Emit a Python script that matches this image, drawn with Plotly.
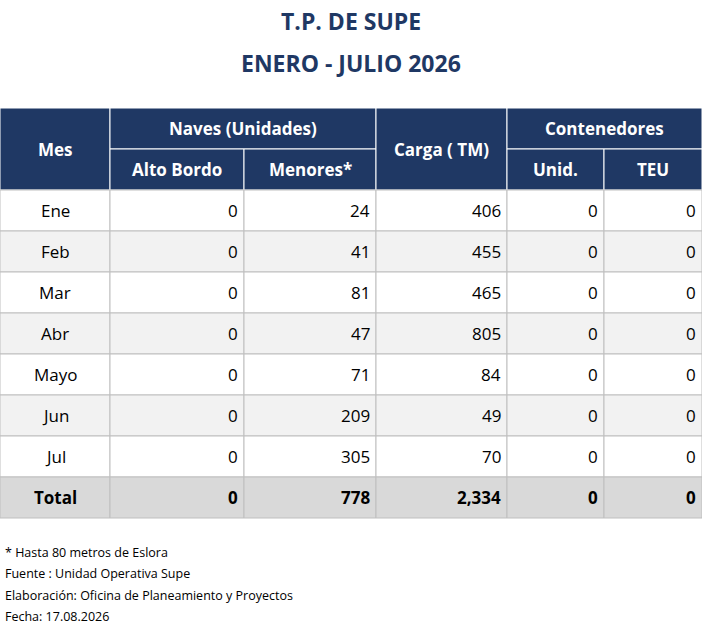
import plotly.graph_objects as go

meses = ["Ene", "Feb", "Mar", "Abr", "Mayo", "Jun", "Jul"]
alto_bordo = [0, 0, 0, 0, 0, 0, 0]
menores = [24, 41, 81, 47, 71, 209, 305]
carga = [406, 455, 465, 805, 84, 49, 70]
unid = [0, 0, 0, 0, 0, 0, 0]
teu = [0, 0, 0, 0, 0, 0, 0]
notas = ["* Hasta 80 metros de Eslora",
         "Fuente : Unidad Operativa Supe",
         "Elaboración: Oficina de Planeamiento y Proyectos",
         "Fecha: 17.08.2026"]

W, H = 702, 628
NAVY = "#1F3864"
FONT = "Open Sans"
cols = [0, 110, 244, 376, 507, 604, 702]
h_top, h_mid, row_h = 108, 149, 41
y0 = 190

fig = go.Figure()
fig.add_trace(go.Scatter(x=[0, W], y=[0, H], mode="markers", marker=dict(opacity=0), showlegend=False, hoverinfo="skip"))

def rect(x0, x1, ya, yb, fill, line="#BFBFBF"):
    fig.add_shape(type="rect", x0=x0, x1=x1, y0=ya, y1=yb, fillcolor=fill,
                  line=dict(color=line, width=1), layer="below")

def text(x, y, s, size=17, color="black", bold=False, anchor="center"):
    fig.add_annotation(x=x, y=y, text=f"<b>{s}</b>" if bold else s, showarrow=False,
                       xanchor=anchor, yanchor="middle",
                       font=dict(family=FONT, size=size, color=color))

# header
wl = "white"
rect(cols[0], cols[1], h_top, y0, NAVY, wl)
rect(cols[1], cols[3], h_top, h_mid, NAVY, wl)
rect(cols[1], cols[2], h_mid, y0, NAVY, wl)
rect(cols[2], cols[3], h_mid, y0, NAVY, wl)
rect(cols[3], cols[4], h_top, y0, NAVY, wl)
rect(cols[4], cols[6], h_top, h_mid, NAVY, wl)
rect(cols[4], cols[5], h_mid, y0, NAVY, wl)
rect(cols[5], cols[6], h_mid, y0, NAVY, wl)
hc = (h_top + y0) / 2
text(55, hc, "Mes", color="white", bold=True)
text((cols[1] + cols[3]) / 2, (h_top + h_mid) / 2, "Naves (Unidades)", color="white", bold=True)
text((cols[1] + cols[2]) / 2, (h_mid + y0) / 2, "Alto Bordo", color="white", bold=True)
text((cols[2] + cols[3]) / 2, (h_mid + y0) / 2, "Menores*", color="white", bold=True)
text((cols[3] + cols[4]) / 2, hc, "Carga ( TM)", color="white", bold=True)
text((cols[4] + cols[6]) / 2, (h_top + h_mid) / 2, "Contenedores", color="white", bold=True)
text((cols[4] + cols[5]) / 2, (h_mid + y0) / 2, "Unid.", color="white", bold=True)
text((cols[5] + cols[6]) / 2, (h_mid + y0) / 2, "TEU", color="white", bold=True)

def row(i, vals, fill, bold=False):
    ya = y0 + i * row_h
    yc = ya + row_h / 2
    for c in range(6):
        rect(cols[c], cols[c + 1], ya, ya + row_h, fill)
    text(55, yc, vals[0], bold=bold)
    for c, v in enumerate(vals[1:], start=1):
        text(cols[c + 1] - 4, yc, f"{v:,}", bold=bold, anchor="right")

for i, m in enumerate(meses):
    row(i, [m, alto_bordo[i], menores[i], carga[i], unid[i], teu[i]],
        "white" if i % 2 == 0 else "#F2F2F2")
row(len(meses), ["Total", sum(alto_bordo), sum(menores), sum(carga), sum(unid), sum(teu)],
    "#D9D9D9", bold=True)

text(W / 2, 21, "T.P. DE SUPE", size=23, color=NAVY, bold=True)
text(W / 2, 63, "ENERO - JULIO 2026", size=23, color=NAVY, bold=True)

for k, n in enumerate(notas):
    text(3, 552 + k * 21.5, n, size=12.5, anchor="left")

fig.update_layout(
    width=W, height=H, margin=dict(l=0, r=0, t=0, b=0),
    plot_bgcolor="white", paper_bgcolor="white",
    xaxis=dict(range=[0, W], visible=False, fixedrange=True),
    yaxis=dict(range=[H, 0], visible=False, fixedrange=True),
)
fig.write_html("out.html", config={"displayModeBar": False},
               post_script="document.body.style.margin='0';document.body.style.overflow='hidden';")
